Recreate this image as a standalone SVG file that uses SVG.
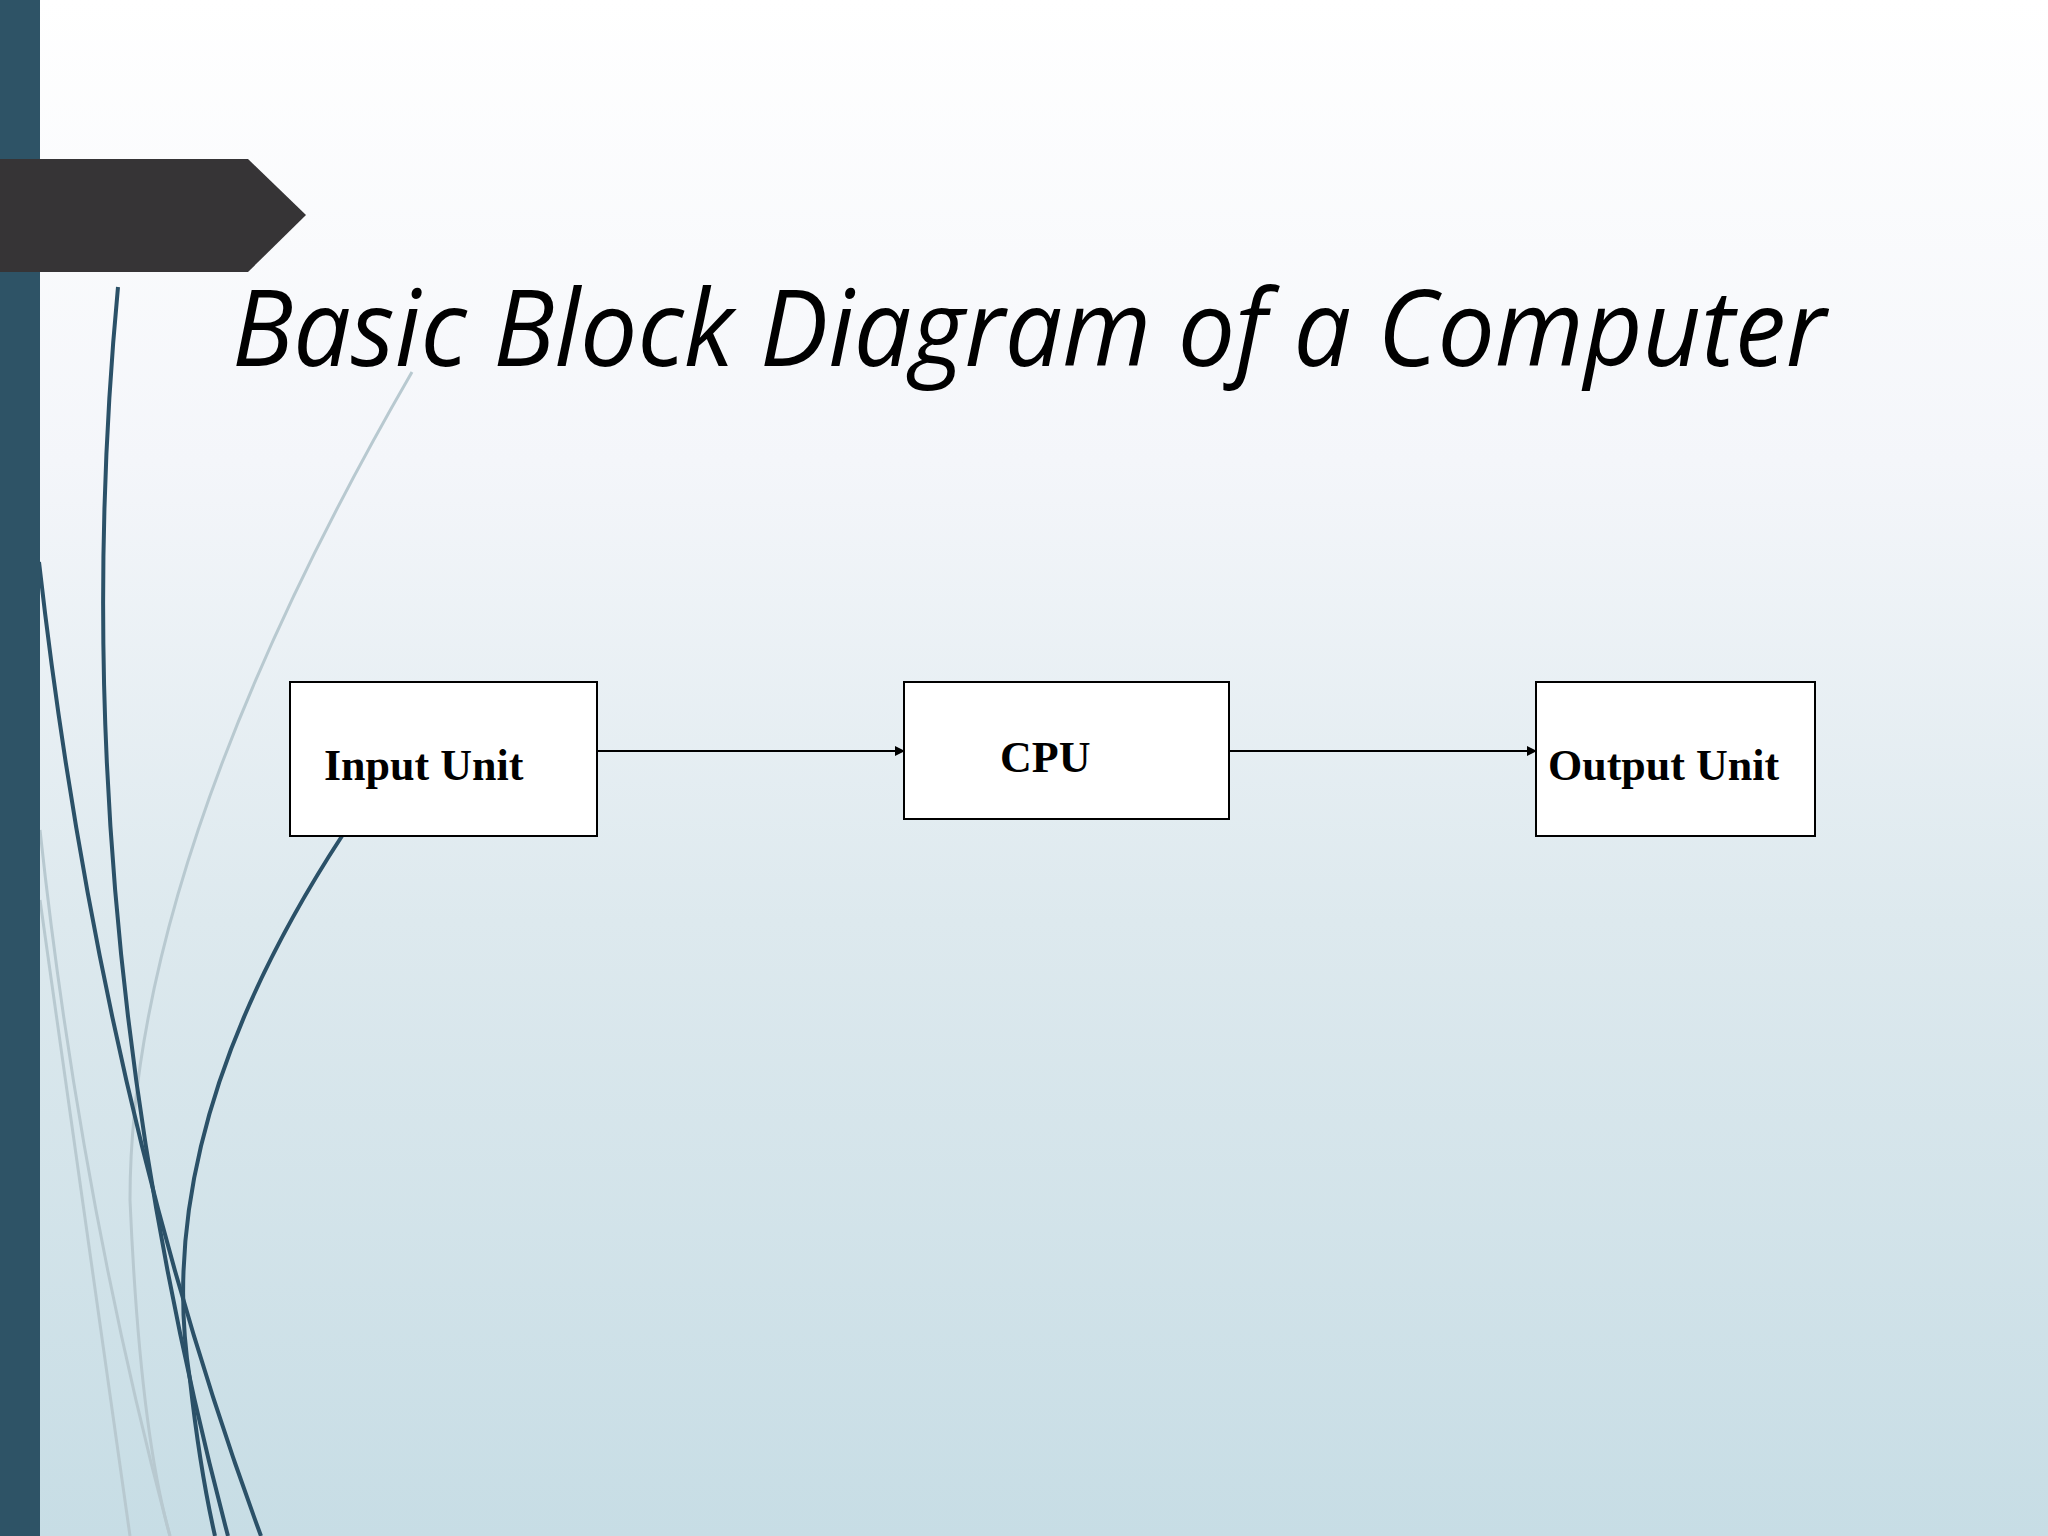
<svg xmlns="http://www.w3.org/2000/svg" width="2048" height="1536" viewBox="0 0 2048 1536">
<defs>
<linearGradient id="bg" x1="0" y1="0" x2="0" y2="1">
<stop offset="0" stop-color="#ffffff"/><stop offset="0.3" stop-color="#f4f6fa"/><stop offset="0.6" stop-color="#dde9ee"/><stop offset="1" stop-color="#c7dde5"/>
</linearGradient>
<marker id="ah" markerWidth="10" markerHeight="10" refX="9" refY="5" orient="auto" markerUnits="userSpaceOnUse"><path d="M0,0 L10,5 L0,10 z" fill="#000"/></marker>
<style>
.box{fill:#fff;stroke:#000;stroke-width:2}
.lbl{font-family:"Liberation Serif",serif;font-weight:bold;font-size:44px;fill:#000}
.con{stroke:#000;stroke-width:2;fill:none;marker-end:url(#ah)}
.dk{fill:none;stroke:#2b5168;stroke-width:4}
.lt{fill:none;stroke:#b8c9d0;stroke-width:3}
</style>
</defs>
<rect width="2048" height="1536" fill="url(#bg)"/>
<g id="decor">
<path class="lt" d="M412,372 Q130,860 130,1200 Q140,1430 170,1536"/>
<path class="lt" d="M40,830 Q80,1200 170,1536" stroke-width="8"/>
<path class="lt" d="M40,900 Q90,1250 130,1536"/>
<path class="dk" d="M118,287 Q60,900 228,1536" stroke-width="3"/>
<path class="dk" d="M39,562 Q100,1100 261,1536"/>
<path class="dk" d="M342,836 Q150,1130 190,1380 Q200,1470 215,1536"/>
<rect x="0" y="0" width="40" height="1536" fill="#2e5366"/>
<path d="M0,159 L248,159 L306,215 L248,272 L0,272 z" fill="#363436"/>
</g>
<text x="232" y="366" font-family="'Open Sans','Noto Sans',sans-serif" font-style="italic" font-size="106" fill="#000" textLength="1594" lengthAdjust="spacingAndGlyphs">Basic Block Diagram of a Computer</text>
<g id="input"><rect class="box" x="290" y="682" width="307" height="154"/><text class="lbl" x="324" y="780">Input Unit</text></g>
<g id="cpu"><rect class="box" x="904" y="682" width="325" height="137"/><text class="lbl" x="1000" y="772">CPU</text></g>
<g id="output"><rect class="box" x="1536" y="682" width="279" height="154"/><text class="lbl" x="1548" y="780">Output Unit</text></g>
<g id="connectors">
<line class="con" x1="597" y1="751" x2="904" y2="751"/>
<line class="con" x1="1229" y1="751" x2="1536" y2="751"/>
</g>
</svg>
